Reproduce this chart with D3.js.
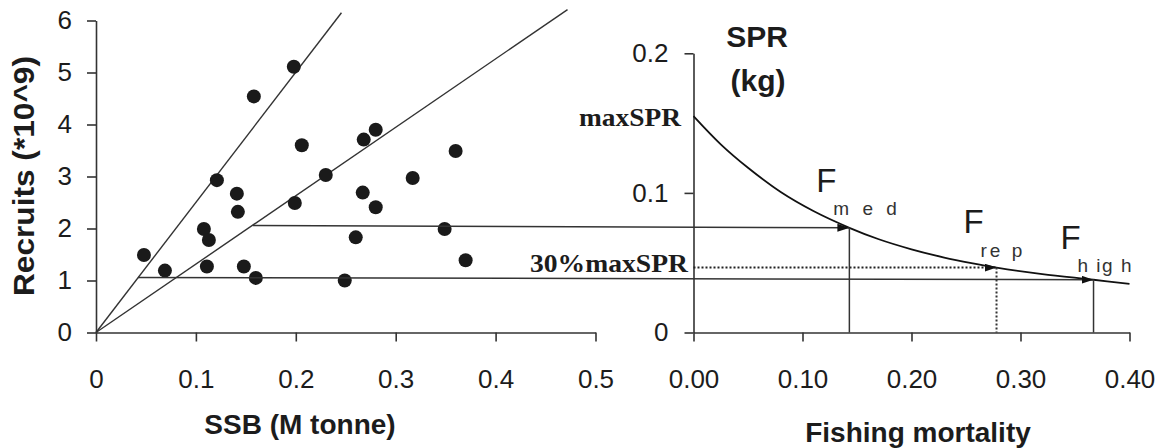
<!DOCTYPE html>
<html><head><meta charset="utf-8">
<script src="https://cdnjs.cloudflare.com/ajax/libs/d3/7.8.5/d3.min.js"></script>
<style>body{margin:0;background:#fff}</style>
</head><body><svg id="c" width="1164" height="448"></svg>
<script>
// ---- data ----
const ssb = [0.048,0.069,0.108,0.113,0.111,0.121,0.141,0.142,0.148,0.158,0.160,0.198,0.199,0.206,0.230,0.249,0.260,0.267,0.268,0.280,0.280,0.317,0.349,0.360,0.370];
const recruits = [1.49,1.19,1.99,1.78,1.27,2.93,2.67,2.32,1.27,4.54,1.05,5.11,2.49,3.60,3.03,1.00,1.83,2.69,3.71,2.41,3.90,2.97,1.99,3.49,1.39];
const leftXTicks = [0,0.1,0.2,0.3,0.4,0.5];
const leftYTicks = [0,1,2,3,4,5,6];
const rightXTicks = [0,0.1,0.2,0.3,0.4];
const rightYTicks = [0,0.1,0.2];
const steepLine = [[0,0],[0.2457,6.15]];
const shallowLine = [[0,0],[0.472,6.21]];
const fishingMortality = [0,0.025,0.05,0.08,0.11,0.143,0.17,0.20,0.23,0.255,0.278,0.32,0.367,0.40];
const sprValues = [0.155,0.1348,0.1180,0.1006,0.0870,0.0750,0.0668,0.0596,0.0537,0.0497,0.0465,0.0418,0.0378,0.0348];
const refNames = ["m e d","re p","h ig h"];
const refF = [0.143,0.278,0.367];
const refSPR = [0.075,0.0465,0.0378];
const upperStart = [0.157,2.06];   // where the Fmed line leaves the shallow line
const lowerStart = [0.042,1.06];   // where the Fhigh line leaves the steep line
const maxSPR = 0.155, spr30 = 0.0465;

// ---- scales ----
const svg = d3.select("#c");
const xL = d3.scaleLinear().domain([0,0.5]).range([96,595.5]);
const yL = d3.scaleLinear().domain([0,6]).range([332.5,20.5]);
const xR = d3.scaleLinear().domain([0,0.4]).range([693.5,1129.5]);
const yR = d3.scaleLinear().domain([0,0.2]).range([332.5,53.3]);

const SANS = "'Liberation Sans', Arial, sans-serif";
const SERIF = "'Liberation Serif', 'Times New Roman', serif";
const INK = "#1c1c1c", LINE = "#333";

const defs = svg.append("defs");
defs.append("marker").attr("id","arr").attr("viewBox","0 0 12 8").attr("refX",12).attr("refY",4)
  .attr("markerWidth",12).attr("markerHeight",8).attr("markerUnits","userSpaceOnUse").attr("orient","auto")
  .append("path").attr("d","M0,0L12,4L0,8Z").attr("fill","#111");

function styleAxis(g){
  g.select(".domain").attr("stroke",LINE).attr("stroke-width",1.6);
  g.selectAll(".tick line").attr("stroke",LINE).attr("stroke-width",1.6);
  g.selectAll("text").attr("font-family",SANS).attr("font-size",26).attr("fill",INK);
}
const fmt1 = d => d===0 ? "0" : d3.format(".1f")(d);

// left axes
svg.append("g").attr("transform",`translate(0,${yL(0)})`)
  .call(d3.axisBottom(xL).tickValues(leftXTicks).tickFormat(fmt1).tickSize(9).tickSizeOuter(0).tickPadding(28)).call(styleAxis);
svg.append("g").attr("transform",`translate(${xL(0)},0)`)
  .call(d3.axisLeft(yL).tickValues(leftYTicks).tickFormat(d3.format("d")).tickSize(9).tickSizeOuter(0).tickPadding(15)).call(styleAxis);
// right axes
svg.append("g").attr("transform",`translate(0,${yR(0)})`)
  .call(d3.axisBottom(xR).tickValues(rightXTicks).tickFormat(d3.format(".2f")).tickSize(9).tickSizeOuter(0).tickPadding(28)).call(styleAxis);
svg.append("g").attr("transform",`translate(${xR(0)},0)`)
  .call(d3.axisLeft(yR).tickValues(rightYTicks).tickFormat(fmt1).tickSize(9).tickSizeOuter(0).tickPadding(16)).call(styleAxis);

// left lines
const lineL = d3.line().x(d=>xL(d[0])).y(d=>yL(d[1]));
[steepLine, shallowLine].forEach(l=>svg.append("path").attr("d",lineL(l)).attr("fill","none").attr("stroke",LINE).attr("stroke-width",1.4));

// dots
svg.append("g").selectAll("circle").data(ssb.map((s,i)=>[s,recruits[i]])).join("circle")
  .attr("cx",d=>xL(d[0])).attr("cy",d=>yL(d[1])).attr("r",7).attr("fill","#1a1a1a");

// SPR curve
const lineR = d3.line().x(d=>xR(d[0])).y(d=>yR(d[1])).curve(d3.curveCatmullRom);
svg.append("path").attr("d",lineR(fishingMortality.map((f,i)=>[f,sprValues[i]])))
  .attr("fill","none").attr("stroke","#111").attr("stroke-width",1.8);

// connecting horizontal lines with arrows
svg.append("line").attr("x1",xL(upperStart[0])).attr("y1",yL(upperStart[1]))
  .attr("x2",xR(refF[0])).attr("y2",yR(refSPR[0])).attr("stroke",LINE).attr("stroke-width",1.5).attr("marker-end","url(#arr)");
svg.append("line").attr("x1",xL(lowerStart[0])).attr("y1",yL(lowerStart[1]))
  .attr("x2",xR(refF[2])).attr("y2",yR(refSPR[2])).attr("stroke",LINE).attr("stroke-width",1.5).attr("marker-end","url(#arr)");
svg.append("line").attr("x1",xR(0)).attr("y1",yR(spr30)).attr("x2",xR(refF[1])).attr("y2",yR(refSPR[1]))
  .attr("stroke","#222").attr("stroke-width",2).attr("stroke-dasharray","2,2").attr("marker-end","url(#arr)");

// verticals
refF.forEach((f,i)=>{
  svg.append("line").attr("x1",xR(f)).attr("x2",xR(f)).attr("y1",yR(refSPR[i])).attr("y2",yR(0))
    .attr("stroke",LINE).attr("stroke-width",i===1?2:1.5).attr("stroke-dasharray",i===1?"2,2":null);
});

// F labels
const subSpacing = [4,3,1.5];
refF.forEach((f,i)=>{
  const px = xR(f);
  const fy = [192,233,249][i], sy = [215,257,272][i];
  svg.append("text").attr("x",px-33).attr("y",fy).attr("font-family",SANS).attr("font-size",33).attr("fill",INK).text("F");
  svg.append("text").attr("x",px-16).attr("y",sy).attr("font-family",SANS).attr("font-size",19).attr("fill","#333")
    .attr("letter-spacing",subSpacing[i]).attr("xml:space","preserve").style("white-space","pre").text(refNames[i]);
});

// serif annotations
svg.append("text").attr("x",681).attr("y",yR(maxSPR)+10).attr("text-anchor","end").attr("font-family",SERIF)
  .attr("font-weight","bold").attr("font-size",26).attr("fill",INK)
  .attr("textLength",102).attr("lengthAdjust","spacingAndGlyphs").text("maxSPR");
svg.append("text").attr("x",688).attr("y",yR(spr30)+4).attr("text-anchor","end").attr("font-family",SERIF)
  .attr("font-weight","bold").attr("font-size",26).attr("fill",INK)
  .attr("textLength",158).attr("lengthAdjust","spacingAndGlyphs").text("30%maxSPR");

// titles
const title = (t,x,y,size,rot,len)=>{
  const el = svg.append("text").attr("transform",`translate(${x},${y})${rot?" rotate(-90)":""}`)
    .attr("text-anchor","middle").attr("font-family",SANS).attr("font-weight","bold").attr("font-size",size).attr("fill",INK).text(t);
  if(len) el.attr("textLength",len).attr("lengthAdjust","spacingAndGlyphs");
};
title("SPR",757,47,30);
title("(kg)",758,91,30);
title("SSB (M tonne)",300,434,28);
title("Fishing mortality",918,442,28);
title("Recruits (*10^9)",34,176,29,true,240);
</script></body></html>
